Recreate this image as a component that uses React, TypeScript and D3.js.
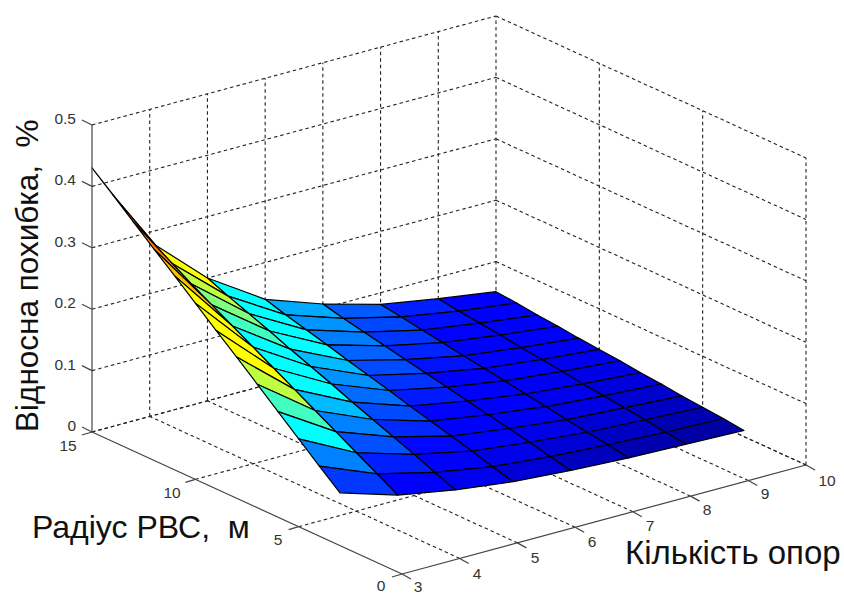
import React from "react";
import * as d3 from "d3";

// Axis ticks
const xTicks = [3, 4, 5, 6, 7, 8, 9, 10];
const yTicks = [0, 5, 10, 15];
const zTicks = [0, 0.1, 0.2, 0.3, 0.4, 0.5];

// Surface grid
const supports = [3, 4, 5, 6, 7, 8, 9, 10];
const radii = [3, 4, 5, 6, 7, 8, 9, 10, 11, 12, 13, 14, 15];
const relativeError = [
  [0.086, 0.057, 0.04, 0.028, 0.021, 0.016, 0.013, 0.01],
  [0.114, 0.076, 0.053, 0.037, 0.028, 0.022, 0.017, 0.014],
  [0.143, 0.095, 0.067, 0.047, 0.036, 0.027, 0.022, 0.017],
  [0.172, 0.114, 0.08, 0.056, 0.043, 0.032, 0.026, 0.02],
  [0.201, 0.133, 0.093, 0.065, 0.05, 0.038, 0.03, 0.024],
  [0.23, 0.152, 0.106, 0.074, 0.057, 0.043, 0.034, 0.027],
  [0.258, 0.171, 0.12, 0.084, 0.064, 0.049, 0.039, 0.031],
  [0.287, 0.19, 0.133, 0.093, 0.071, 0.054, 0.043, 0.034],
  [0.316, 0.209, 0.146, 0.102, 0.078, 0.059, 0.047, 0.037],
  [0.344, 0.228, 0.16, 0.112, 0.085, 0.065, 0.052, 0.041],
  [0.373, 0.247, 0.173, 0.121, 0.092, 0.07, 0.056, 0.044],
  [0.402, 0.266, 0.186, 0.13, 0.099, 0.076, 0.06, 0.048],
  [0.43, 0.285, 0.2, 0.14, 0.107, 0.081, 0.065, 0.051],
];
// Colour values read for the strip nearest the viewer (3 supports), by radius
const colourValuesFirstStrip = [
  0.086, 0.114, 0.143, 0.2, 0.254, 0.283, 0.283, 0.295, 0.316, 0.344, 0.373, 0.402, 0.43,
];

// Orthographic projection as linear scales
const xToPx = d3.scaleLinear().domain([3, 10]).range([0, 404]);
const xToPy = d3.scaleLinear().domain([3, 10]).range([0, -109]);
const yToPx = d3.scaleLinear().domain([0, 15]).range([0, -310]);
const yToPy = d3.scaleLinear().domain([0, 15]).range([0, -142]);
const zToPy = d3.scaleLinear().domain([0, 0.5]).range([0, -307]);
const origin: [number, number] = [402, 574];

const project = (x: number, y: number, z: number): [number, number] => [
  origin[0] + xToPx(x) + yToPx(y),
  origin[1] + xToPy(x) + yToPy(y) + zToPy(z),
];

const flat = relativeError.flat();
const zMin = d3.min(flat) as number;
const zMax = d3.max(flat) as number;
const lowT = [0, 0.05, 0.09, 0.13, 0.29, 0.31, 0.34];
const lowColors = ["#00009a", "#0000e0", "#0000ff", "#0000ff", "#00b0ff", "#00ffff", "#00ffff"];
const jetLow = d3.scaleLinear<string>().domain(lowT).range(lowColors);
const highBreaks = [0.43, 0.49, 0.55, 0.6, 0.7, 0.76, 0.82, 0.88, 0.94];
const highColors = [
  "#00ffff", "#40ffc0", "#80ff80", "#c0ff40", "#ffff00",
  "#ffc000", "#ff8000", "#ff4000", "#ff0000", "#c00000",
];
const jetHigh = d3.scaleThreshold<number, string>().domain(highBreaks).range(highColors);
const faceColor = (z: number) => {
  const t = (z - zMin) / (zMax - zMin);
  return t < 0.34 ? jetLow(t) : jetHigh(t);
};

const pathOf = d3.line<[number, number]>();
const FONT = "'Liberation Sans', Arial, sans-serif";
const GRID = "#222";
const AXIS = "#444444";
const DASH = "3.5 3";

type Seg = [[number, number], [number, number]];

const gridSegs: Seg[] = [
  // back wall y=15
  ...xTicks.filter((x) => x > 3).map((x) => [project(x, 15, 0), project(x, 15, 0.5)] as Seg),
  ...zTicks.map((z) => [project(3, 15, z), project(10, 15, z)] as Seg),
  // side wall x=10
  ...yTicks.filter((y) => y < 15).map((y) => [project(10, y, 0), project(10, y, 0.5)] as Seg),
  ...zTicks.map((z) => [project(10, 15, z), project(10, 0, z)] as Seg),
  // floor
  ...xTicks.filter((x) => x > 3).map((x) => [project(x, 0, 0), project(x, 15, 0)] as Seg),
  ...yTicks.filter((y) => y > 0).map((y) => [project(3, y, 0), project(10, y, 0)] as Seg),
];

const xTickPos: [number, number][] = [
  [418, 588],
  [477, 575],
  [535, 559],
  [592, 543],
  [650, 527],
  [707, 511],
  [765, 495],
  [827, 482],
];
const yTickPos: [number, number][] = [
  [381, 587],
  [278, 541],
  [172, 494],
  [68, 447],
];

export default function App() {
  const faces: { d: string; fill: string }[] = [];
  for (let i = supports.length - 2; i >= 0; i--) {
    for (let j = radii.length - 2; j >= 0; j--) {
      const pts = [
        project(supports[i], radii[j], relativeError[j][i]),
        project(supports[i + 1], radii[j], relativeError[j][i + 1]),
        project(supports[i + 1], radii[j + 1], relativeError[j + 1][i + 1]),
        project(supports[i], radii[j + 1], relativeError[j + 1][i]),
      ];
      const c = i === 0 ? colourValuesFirstStrip[j] : relativeError[j][i];
      faces.push({ d: pathOf(pts) + "Z", fill: faceColor(c) });
    }
  }
  const zAxisTop = project(3, 15, 0.5);
  const zAxisBottom = project(3, 15, 0);
  return (
    <svg
      width={844}
      height={595}
      viewBox="0 0 844 595"
      style={{ position: "absolute", left: 0, top: 0, background: "#fff" }}
    >
      <g fill="none" stroke={GRID} strokeWidth={1.1} strokeDasharray={DASH}>
        {gridSegs.map((s, i) => (
          <path key={i} d={pathOf(s) as string} />
        ))}
      </g>
      <g stroke="#000" strokeWidth={1.2} strokeLinejoin="round">
        {faces.map((f, i) => (
          <path key={i} d={f.d} fill={f.fill} />
        ))}
      </g>
      <g stroke={AXIS} strokeWidth={1.2} fill="none">
        <path d={pathOf([zAxisBottom, zAxisTop]) as string} />
        <path d={pathOf([project(3, 15, 0), project(3, 0, 0)]) as string} />
        <path d={pathOf([project(3, 0, 0), project(10, 0, 0)]) as string} />
        {xTicks.map((x) => {
          const a = project(x, 0, 0);
          return <path key={x} d={pathOf([a, [a[0] + 9, a[1] + 5]]) as string} />;
        })}
        {yTicks.map((y) => {
          const a = project(3, y, 0);
          return <path key={y} d={pathOf([a, [a[0] - 10, a[1] + 3]]) as string} />;
        })}
        {zTicks.map((z) => {
          const a = project(3, 15, z);
          return <path key={z} d={pathOf([a, [a[0] - 10, a[1] - 5]]) as string} />;
        })}
      </g>
      <g fontFamily={FONT} fontSize={15.5} fill="#333">
        {zTicks.map((z) => (
          <text key={z} x={76} y={project(3, 15, z)[1] - 5} textAnchor="end" dominantBaseline="middle">
            {z}
          </text>
        ))}
        {xTicks.map((x, i) => (
          <text key={x} x={xTickPos[i][0]} y={xTickPos[i][1]} textAnchor="middle" dominantBaseline="middle">
            {x}
          </text>
        ))}
        {yTicks.map((y, i) => (
          <text key={y} x={yTickPos[i][0]} y={yTickPos[i][1]} textAnchor="middle" dominantBaseline="middle">
            {y}
          </text>
        ))}
      </g>
      <g fontFamily={FONT} fill="#111">
        <text x={32} y={538} fontSize={32}>{"Радіус РВС,\u00A0 м"}</text>
        <text x={625} y={564} fontSize={33}>Кількість опор</text>
        <text transform="translate(38,432) rotate(-90)" fontSize={31.5}>{"Відносна похибка,\u00A0 %"}</text>
      </g>
    </svg>
  );
}
